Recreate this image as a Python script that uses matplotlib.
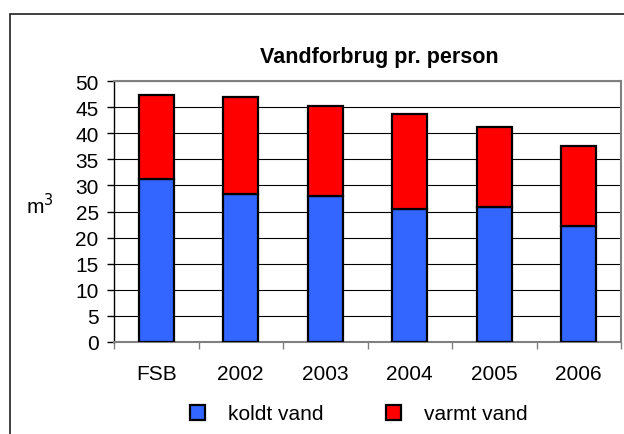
import matplotlib
matplotlib.use('Agg')
import matplotlib.pyplot as plt
from matplotlib.patches import Rectangle, Patch
import numpy as np

plt.rcParams['font.family'] = ['Liberation Sans', 'DejaVu Sans']

categories = ['FSB', '2002', '2003', '2004', '2005', '2006']
koldt = [31.2, 28.4, 27.9, 25.5, 25.8, 22.3]
varmt_total = [47.4, 46.9, 45.3, 43.6, 41.1, 37.6]
varmt = [t - k for t, k in zip(varmt_total, koldt)]

blue = '#3366ff'
red = '#ff0000'

fig = plt.figure(figsize=(6.24, 4.35), dpi=100)
# chart area border (runs off the right and bottom edges)
fig.patches.append(Rectangle((10/624, -0.1), 1.2, 0.1 + (435-15)/435, transform=fig.transFigure,
                             fill=False, edgecolor='#202020', linewidth=1.2))

ax = fig.add_axes([114/624, (435-343)/435, (621-114)/624, (343-82)/435])
x = np.arange(len(categories))
ax.bar(x, koldt, width=0.41, color=blue, edgecolor='black', linewidth=1.6, zorder=3)
ax.bar(x, varmt, width=0.41, bottom=koldt, color=red, edgecolor='black', linewidth=1.6, zorder=3)

ax.set_xlim(-0.5, len(categories) - 0.5)
ax.set_ylim(0, 50)
ax.set_yticks(range(0, 51, 5))
ax.yaxis.grid(True, color='black', linewidth=0.8, zorder=0)
ax.set_axisbelow(True)

ax.set_xticks(x)
ax.set_xticklabels(categories, fontsize=15)
ax.set_xticks(np.arange(-0.5, len(categories)), minor=True)
ax.tick_params(axis='x', which='major', length=0, pad=16)
ax.tick_params(axis='x', which='minor', length=5, color='#808080', width=1)
ax.tick_params(axis='y', labelsize=15, length=5, width=1, pad=6)

for s in ['top', 'right', 'bottom']:
    ax.spines[s].set_color('#808080')
    ax.spines[s].set_linewidth(1.5)
ax.spines['left'].set_color('black')
ax.spines['left'].set_linewidth(1)

fig.text(379/624, (435-58)/435, 'Vandforbrug pr. person', ha='center', va='center',
         fontsize=15.5, fontweight='bold')
fig.text(40/624, (435-206)/435, 'm$^3$', ha='center', va='center', fontsize=15)

handles = [Patch(facecolor=blue, edgecolor='black', linewidth=1.6),
           Patch(facecolor=red, edgecolor='black', linewidth=1.6)]
fig.legend(handles, ['koldt vand', 'varmt vand'], loc='center', bbox_to_anchor=(359/624, (435-415)/435),
           ncol=2, frameon=False, fontsize=15, handlelength=0.72, handleheight=0.72,
           handletextpad=1.1, columnspacing=3.0, borderpad=0)

fig.savefig('out.png', dpi=100)
